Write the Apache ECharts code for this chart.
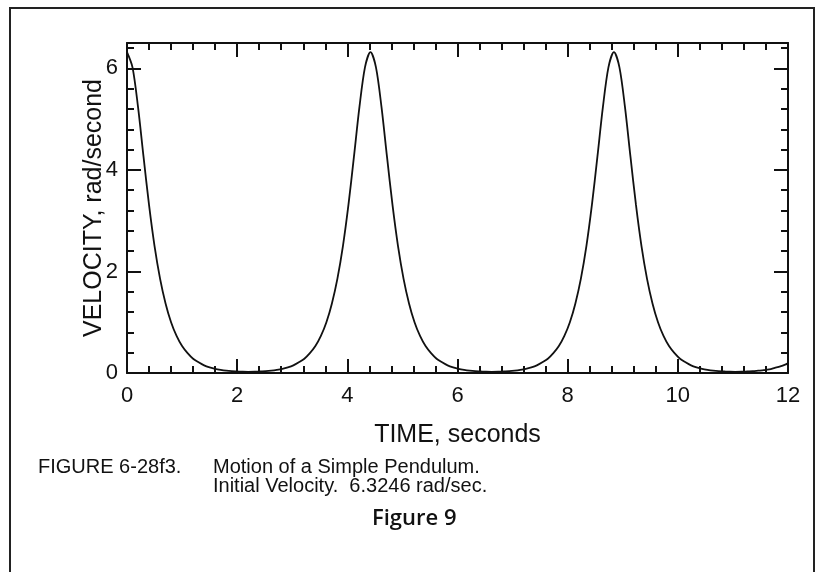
<!DOCTYPE html>
<html><head><meta charset="utf-8">
<script src="https://cdn.jsdelivr.net/npm/echarts@6/dist/echarts.min.js"></script>
<style>html,body{margin:0;padding:0;background:#fff}#c{width:822px;height:572px}</style>
</head><body><div id="c"></div>
<script>
// ---- data ----
const time = [
  0.00,0.10,0.20,0.30,0.40,0.50,0.60,0.70,0.80,0.90,1.00,1.10,1.20,1.30,1.40,1.50,1.60,1.70,1.80,1.90,2.00,2.10,2.20,
  2.32,2.42,2.52,2.62,2.72,2.82,2.92,3.02,3.12,3.22,3.32,3.42,3.52,3.62,3.72,3.82,3.92,4.02,4.12,4.22,4.32,4.42,
  4.52,4.62,4.72,4.82,4.92,5.02,5.12,5.22,5.32,5.42,5.52,5.62,5.72,5.82,5.92,6.02,6.12,6.22,6.32,6.42,6.52,6.62,
  6.74,6.84,6.94,7.04,7.14,7.24,7.34,7.44,7.54,7.64,7.74,7.84,7.94,8.04,8.14,8.24,8.34,8.44,8.54,8.64,8.74,8.84,
  8.94,9.04,9.14,9.24,9.34,9.44,9.54,9.64,9.74,9.84,9.94,10.04,10.14,10.24,10.34,10.44,10.54,10.64,10.74,10.84,10.94,11.04,
  11.16,11.26,11.36,11.46,11.56,11.66,11.76,11.86,11.96,12.00
];
const velocity = [
  6.32,6.02,5.24,4.26,3.31,2.50,1.86,1.37,1.00,0.73,0.53,0.39,0.28,0.21,0.15,0.11,0.08,0.06,0.045,0.035,0.03,0.025,0.023,
  0.025,0.03,0.035,0.045,0.06,0.08,0.11,0.15,0.21,0.28,0.39,0.53,0.73,1.00,1.37,1.86,2.50,3.31,4.26,5.24,6.02,6.32,
  6.02,5.24,4.26,3.31,2.50,1.86,1.37,1.00,0.73,0.53,0.39,0.28,0.21,0.15,0.11,0.08,0.06,0.045,0.035,0.03,0.025,0.023,
  0.025,0.03,0.035,0.045,0.06,0.08,0.11,0.15,0.21,0.28,0.39,0.53,0.73,1.00,1.37,1.86,2.50,3.31,4.26,5.24,6.02,6.32,
  6.02,5.24,4.26,3.31,2.50,1.86,1.37,1.00,0.73,0.53,0.39,0.28,0.21,0.15,0.11,0.08,0.06,0.045,0.035,0.03,0.025,0.023,
  0.025,0.03,0.035,0.045,0.055,0.07,0.10,0.13,0.17,0.19
];
const xTickLabels = [0, 2, 4, 6, 8, 10, 12];
const yTickLabels = [0, 2, 4, 6];
const xAxisTitle = 'TIME, seconds';
const yAxisTitle = 'VELOCITY, rad/second';
const captionLabel = 'FIGURE 6-28f3.';
const captionLines = ['Motion of a Simple Pendulum.', 'Initial Velocity.  6.3246 rad/sec.'];
const figureLabel = 'Figure 9';

// ---- styling ----
const INK = '#111';
const FONT = '"Liberation Sans", Arial, sans-serif';
const gridRect = { left: 127, right: 34, top: 43, bottom: 199 };
const lineStyle = { color: INK, width: 2 };
const majorTick = { show: true, inside: true, length: 14, lineStyle: lineStyle };
const minorTickStyle = { show: true, inside: true, length: 7, lineStyle: lineStyle };

const chart = echarts.init(document.getElementById('c'), null, { renderer: 'canvas' });

const xMin = xTickLabels[0], xMax = xTickLabels[xTickLabels.length - 1];
const xStep = xTickLabels[1] - xTickLabels[0];
const yStep = yTickLabels[1] - yTickLabels[0];

function baseX(pos, labels, grid) {
  return {
    type: 'value', gridIndex: grid, position: pos, min: xMin, max: xMax, interval: xStep,
    axisLine: { show: true, onZero: false, lineStyle: lineStyle },
    axisTick: majorTick,
    minorTick: { show: true, splitNumber: 5, length: 7, lineStyle: lineStyle },
    splitLine: { show: false }, minorSplitLine: { show: false },
    axisLabel: labels ? { show: true, margin: 12, color: INK, fontSize: 22, fontFamily: FONT,
      formatter: v => xTickLabels.includes(v) ? String(v) : '' } : { show: false }
  };
}
function baseY(pos, labels, grid, step, tick, showLine) {
  return {
    type: 'value', gridIndex: grid, position: pos, min: 0, max: 6.5, interval: step,
    axisLine: { show: showLine, onZero: false, lineStyle: lineStyle },
    axisTick: tick,
    splitLine: { show: false },
    axisLabel: labels ? { show: true, margin: 9, color: INK, fontSize: 22, fontFamily: FONT,
      formatter: v => yTickLabels.includes(v) ? String(v) : '' } : { show: false }
  };
}

const xA = [
  Object.assign(baseX('bottom', true, 0), {
    name: xAxisTitle, nameLocation: 'middle', nameGap: 50, nameMoveOverlap: false,
    nameTextStyle: { color: INK, fontSize: 25, fontFamily: FONT }
  }),
  baseX('top', false, 0),
  Object.assign(baseX('bottom', false, 1), { show: false }),
  Object.assign(baseX('top', false, 1), { show: false })
];
const yA = [
  Object.assign(baseY('left', true, 0, yStep, majorTick, true), {
    name: yAxisTitle, nameLocation: 'middle', nameGap: 20, nameRotate: 90, nameMoveOverlap: false,
    nameTextStyle: { color: INK, fontSize: 25, fontFamily: FONT }
  }),
  baseY('right', false, 0, yStep, majorTick, true),
  baseY('left', false, 1, 0.4, minorTickStyle, false),
  baseY('right', false, 1, 0.4, minorTickStyle, false)
];

const points = time.map((t, i) => [t, velocity[i]]);

chart.setOption({
  backgroundColor: '#fff',
  animation: false,
  grid: [
    Object.assign({ containLabel: false, outerBoundsMode: 'none' }, gridRect),
    Object.assign({ containLabel: false, outerBoundsMode: 'none' }, gridRect)
  ],
  xAxis: xA,
  yAxis: yA,
  series: [{
    type: 'line', xAxisIndex: 0, yAxisIndex: 0, data: points,
    showSymbol: false, smooth: 0.3, clip: true,
    lineStyle: { color: INK, width: 1.8 }
  }],
  graphic: [
    { type: 'polyline', silent: true, shape: { points: [[10, 580], [10, 8], [814, 8], [814, 580]] },
      style: { stroke: '#222', lineWidth: 2, fill: null } },
    { type: 'text', left: 38, top: 457, style: { text: captionLabel, fill: INK, font: '20px ' + FONT } },
    { type: 'text', left: 213, top: 457, style: { text: captionLines[0], fill: INK, font: '20px ' + FONT } },
    { type: 'text', left: 213, top: 476, style: { text: captionLines[1], fill: INK, font: '20px ' + FONT } },
    { type: 'text', left: 372, top: 508, style: { text: figureLabel, fill: INK, font: '600 22px "Open Sans", sans-serif' } }
  ]
});
</script>
</body></html>
